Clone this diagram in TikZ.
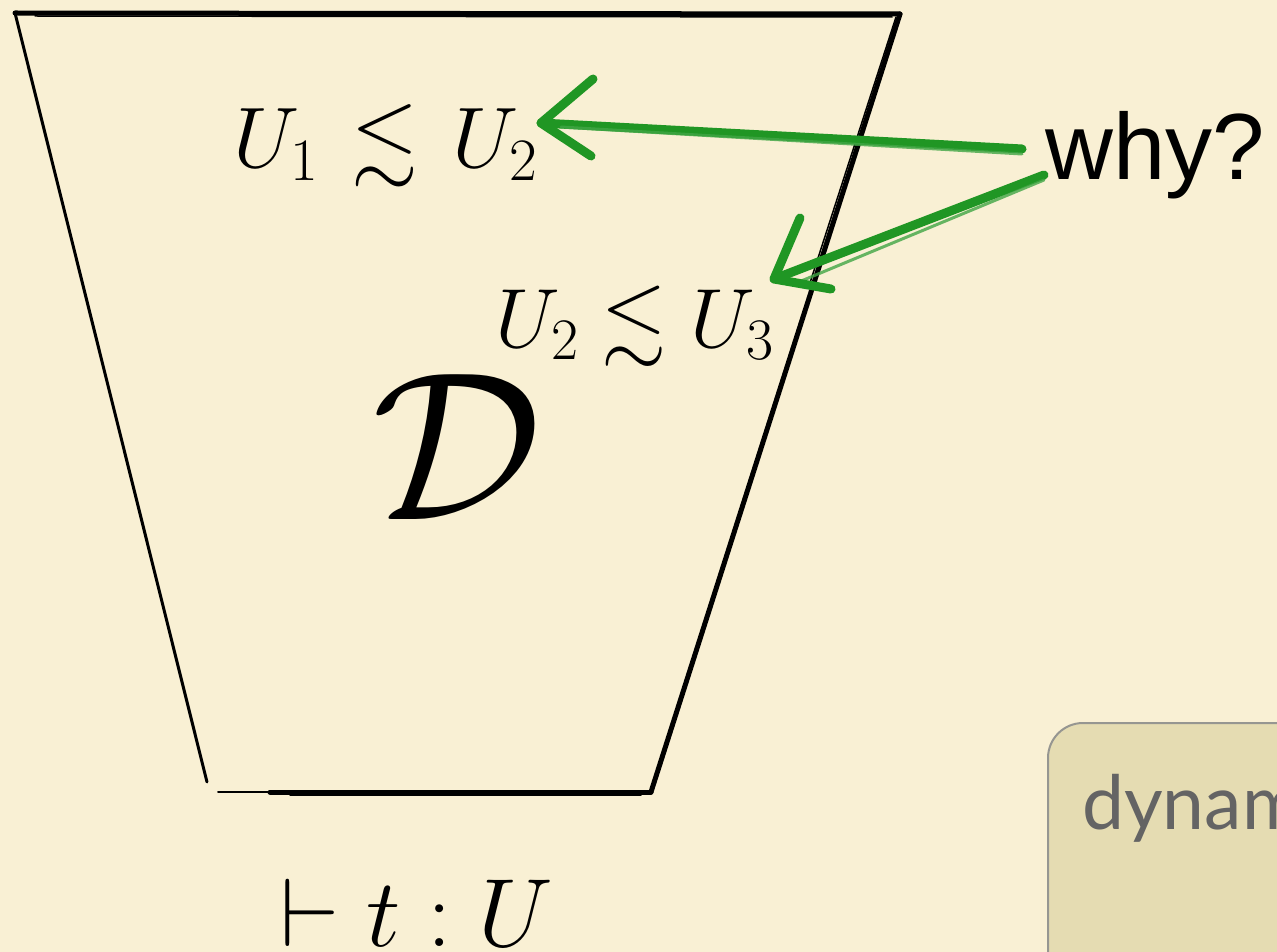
\RequirePackage{fix-cm}
\documentclass[tikz,border=0pt]{standalone}
\usepackage{fontspec}
\usepackage{amssymb}
\usetikzlibrary{calc}
\newfontfamily\whyfont{Liberation Sans}
\newfontfamily\boxfont{Lato}
\definecolor{paper}{RGB}{249,240,212}
\definecolor{brushgreen}{RGB}{32,150,36}
\definecolor{boxfill}{RGB}{229,220,178}
\definecolor{boxline}{RGB}{150,150,145}
\definecolor{boxtext}{RGB}{100,100,100}
\tikzset{
  txt/.style={inner sep=0pt, anchor=base west, text=black},
  edge/.style={draw=black, line cap=round, line join=round},
  brush/.style={draw=brushgreen, line width=9pt, line cap=round, line join=round},
  brushthin/.style={draw=brushgreen!85!white, line width=3pt, line cap=round, opacity=0.8},
}
\begin{document}
\begin{tikzpicture}[x=1pt,y=-1pt]
\useasboundingbox (0,0) rectangle (1277,952);
\clip (0,0) rectangle (1277,952);
\fill[paper] (0,0) rectangle (1277,952);

% trapezoid corners
\coordinate (tl) at (15,13);
\coordinate (tr) at (900,14);
\coordinate (br) at (651,792);
\coordinate (bl) at (210,792);
\draw[edge, line width=5pt] (tl) -- (tr);
\draw[edge, line width=1.5pt] ([yshift=-3pt,xshift=20pt]tl) -- ([yshift=-3pt,xshift=-8pt]tr);
\draw[edge, line width=5pt] (tr) -- (br);
\draw[edge, line width=1.5pt] ([xshift=-4pt,yshift=-3pt]tr) -- ($([xshift=-4pt]tr)!0.35!([xshift=-4pt]br)$);
\draw[edge, line width=5pt] (br) -- ([xshift=60pt]bl);
\draw[edge, line width=2pt] ([xshift=60pt]bl) -- ([xshift=8pt]bl);
\draw[edge, line width=1.5pt] ([yshift=-3pt,xshift=-10pt]br) -- ([yshift=-3pt,xshift=80pt]bl);
\draw[edge, line width=3pt] ([yshift=10pt,xshift=-3pt]bl) -- (tl);

% texts
\node[txt] (le1) at (233,168) {\fontsize{86}{90}\selectfont$U_1\mathrel{\mkern2mu\lesssim\mkern2mu} U_2$};
\node[txt] (le2) at (495,347) {\fontsize{84}{90}\selectfont$U_2\lesssim U_3$};
\node[txt] (D) at (372,519) {\fontsize{212}{220}\selectfont$\mathcal{D}$};
\node[txt] (judg) at (280,946) {\fontsize{97}{100}\selectfont$\vdash t : U$};
\node[txt] (why) at (1045,180) {\whyfont\fontsize{94}{100}\selectfont why?};

% box (cut by the picture's edge)
\draw[fill=boxfill, draw=boxline, line width=2pt, rounded corners=35pt] (1048,723) rectangle (1400,1050);
\node[txt, text=boxtext] (dyn) at (1082,829) {\boxfont\fontsize{75}{80}\selectfont dynam};

% green arrows
\coordinate (s1) at (1022,149);
\coordinate (t1) at (541,123);
\coordinate (u1) at (593,79);
\coordinate (l1) at (591,156);
\coordinate (s2) at (1044,175);
\coordinate (t2) at (774,279);
\coordinate (u2) at (800,218);
\coordinate (l2) at (831,289);
\draw[brush] (s1) -- (t1);
\draw[brushthin] ([yshift=-5pt]s1) -- ([yshift=-4pt,xshift=20pt]t1);
\draw[brush] (u1) -- (t1) -- (l1);
\draw[brush] (s2) -- (t2);
\draw[brushthin] ([yshift=-5pt]s2) -- ([yshift=-5pt,xshift=20pt]t2);
\draw[brush] (u2) -- (t2) -- (l2);
\end{tikzpicture}
\end{document}
